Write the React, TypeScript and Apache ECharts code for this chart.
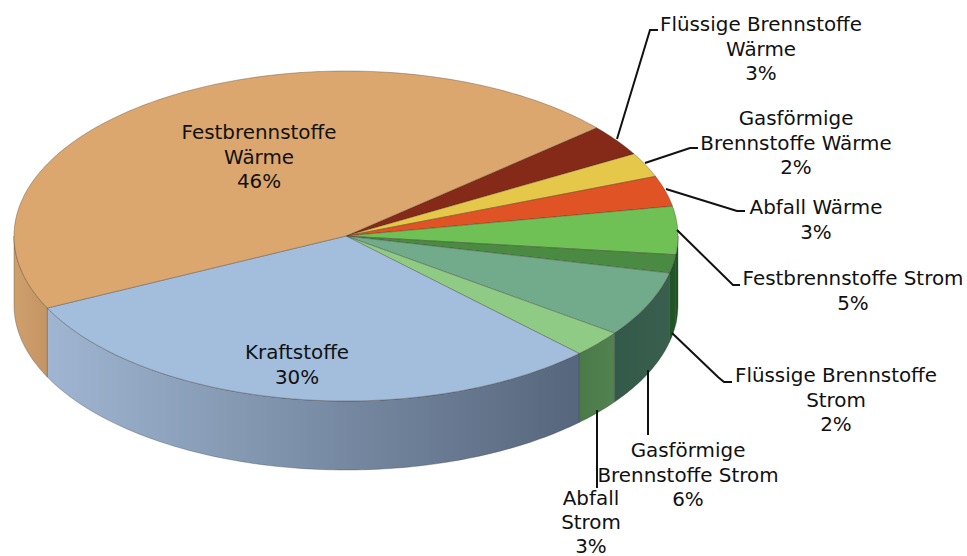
import React, { useEffect, useRef } from "react";
import * as echarts from "echarts";

// Clockwise from the boundary between "Festbrennstoffe Wärme" and "Flüssige Brennstoffe Wärme"
const categories = [
  "Flüssige Brennstoffe\nWärme",
  "Gasförmige\nBrennstoffe Wärme",
  "Abfall Wärme",
  "Festbrennstoffe Strom",
  "Flüssige Brennstoffe\nStrom",
  "Gasförmige\nBrennstoffe Strom",
  "Abfall\nStrom",
  "Kraftstoffe",
  "Festbrennstoffe\nWärme",
];
const values = [3.1, 2.4, 3.0, 4.7, 1.8, 6.4, 2.6, 30.2, 45.8];
const topColors = ["#852a18", "#e5c84a", "#e05324", "#6fc156", "#4a8a42", "#72aa8c", "#8fcb85", "#a3bddd", "#dba76e"];
const wallColors = [
  ["#852a18", "#852a18"],
  ["#e5c84a", "#e5c84a"],
  ["#e05324", "#e05324"],
  ["#1c5a20", "#1c5a20"],
  ["#1f5527", "#1f5527"],
  ["#33594a", "#3a5f4e"],
  ["#4a7a48", "#528250"],
  ["#9fb5d1", "#56667c"],
  ["#cfa06c", "#c49564"],
];

const labelPos = [
  [761, 49], [796, 143], [816, 220], [853, 291], [836, 400], [688, 475], [591, 522], [297, 365], [259, 157],
];
const leaders: (number[][] | null)[] = [
  [[617, 139], [650, 30], [658, 30]],
  [[645, 163], [690, 148], [698, 148]],
  [[666, 189], [737, 211], [745, 211]],
  [[677, 230], [733, 285], [740, 285]],
  [[672, 333], [718, 377], [724, 382], [732, 382]],
  [[648, 370], [648, 435]],
  [[597, 410], [597, 488]],
  null,
  null,
];

const CX = 346, CY = 236, RX = 332, RY = 165, DEPTH = 69, START = 41;
const total = values.reduce((a, b) => a + b, 0);

const pt = (deg: number, dy = 0) => {
  const r = (deg * Math.PI) / 180;
  return [CX + RX * Math.cos(r), CY - RY * Math.sin(r) + dy];
};

function renderItem(params: any, api: any) {
  const i = params.dataIndex;
  const v = api.value(0);
  let before = 0;
  for (let k = 0; k < i; k++) before += values[k];
  const a0 = START - (before / total) * 360;
  const a1 = a0 - (v / total) * 360;

  const top: number[][] = [[CX, CY]];
  const steps = Math.max(2, Math.ceil(a0 - a1));
  for (let s = 0; s <= steps; s++) top.push(pt(a0 + ((a1 - a0) * s) / steps));

  const children: any[] = [];
  // Visible wall: the part of the arc on the front half (parameter angle -180..0)
  const w0 = Math.min(a0, 0);
  const w1 = Math.max(a1, -180);
  if (w0 > w1) {
    const upper: number[][] = [];
    const lower: number[][] = [];
    const n = Math.max(2, Math.ceil(w0 - w1));
    for (let s = 0; s <= n; s++) {
      const a = w0 + ((w1 - w0) * s) / n;
      upper.push(pt(a));
      lower.push(pt(a, DEPTH));
    }
    const [right, left] = wallColors[i];
    children.push({
      type: "polygon",
      shape: { points: upper.concat(lower.reverse()) },
      style: {
        fill: new echarts.graphic.LinearGradient(0, 0, 1, 0, [
          { offset: 0, color: right },
          { offset: 1, color: left },
        ]),
        stroke: "rgba(50,55,60,0.45)",
        lineWidth: 0.7,
      },
    });
  }
  children.push({
    type: "polygon",
    shape: { points: top },
    style: { fill: topColors[i], stroke: "rgba(50,40,30,0.45)", lineWidth: 0.7 },
  });
  return { type: "group", children };
}

const labelText = categories.map((c, i) => `${c}\n${Math.round(values[i])}%`);

const graphicElements: any[] = [];
leaders.forEach((l) => {
  if (l) {
    graphicElements.push({
      type: "polyline",
      z: 20,
      shape: { points: l },
      style: { stroke: "#111", lineWidth: 2, fill: "none" },
    });
  }
});
labelText.forEach((t, i) => {
  graphicElements.push({
    type: "text",
    z: 30,
    x: labelPos[i][0],
    y: labelPos[i][1],
    style: {
      text: t,
      fill: "#111",
      font: '19.9px "DejaVu Sans"',
      lineHeight: i === 6 ? 24 : 24.3,
      align: "center",
      verticalAlign: "middle",
    },
  });
});

export default function App() {
  const ref = useRef<HTMLDivElement>(null);
  useEffect(() => {
    const chart = echarts.init(ref.current!, undefined, { renderer: "svg" });
    chart.setOption({
      animation: false,
      backgroundColor: "#ffffff",
      series: [
        {
          type: "custom",
          coordinateSystem: "none",
          silent: true,
          clip: false,
          data: values.map((v) => [v]),
          renderItem,
        },
      ],
      graphic: graphicElements,
    });
    return () => chart.dispose();
  }, []);
  return <div ref={ref} style={{ position: "absolute", left: 0, top: 0, width: 967, height: 556 }} />;
}
